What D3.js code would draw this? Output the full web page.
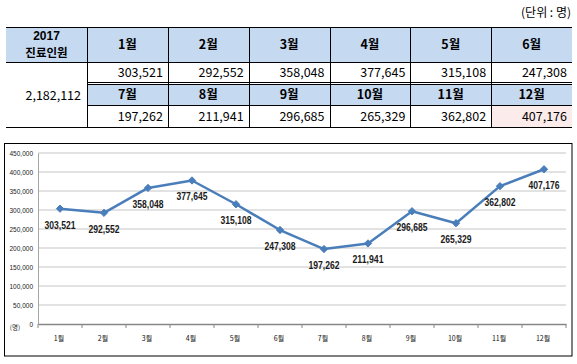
<!DOCTYPE html>
<html><head><meta charset="utf-8">
<script src="https://cdn.jsdelivr.net/npm/d3@7"></script>
<style>
body{margin:0;background:#fff;}
svg{display:block;}
</style></head>
<body>
<svg id="c" width="577" height="364"></svg>
<script>
const months = ["1월","2월","3월","4월","5월","6월","7월","8월","9월","10월","11월","12월"];
const values = [303521,292552,358048,377645,315108,247308,197262,211941,296685,265329,362802,407176];
const totalLabel = "2,182,112";
const yTicks = [0,50000,100000,150000,200000,250000,300000,350000,400000,450000];
const unitText = "(단위 : 명)";
const headerTitle = ["2017","진료인원"];
const yUnit = "(명)";

const svg = d3.select("#c");
const KR = "'Noto Sans CJK KR','Noto Sans',sans-serif";
const fmt = d3.format(",");

// ---------- TABLE ----------
svg.append("text").attr("x",571).attr("y",17).attr("text-anchor","end")
  .attr("font-family",KR).attr("font-size",12).attr("fill","#000").text(unitText);

const tL = 6, tR = 572, c1 = 87;
const colX = d3.scaleBand().domain(d3.range(6)).range([c1,tR]);
const rows = {h1:[27,62], v1:[62,82], h2:[84.5,105], v2:[105,127]};
const headBlue = "#C5D9F1";

svg.append("rect").attr("x",tL).attr("y",rows.h1[0]).attr("width",tR-tL).attr("height",rows.h1[1]-rows.h1[0]).attr("fill",headBlue);
svg.append("rect").attr("x",c1).attr("y",rows.h2[0]).attr("width",tR-c1).attr("height",rows.h2[1]-rows.h2[0]).attr("fill",headBlue);
svg.append("rect").attr("x",colX(5)).attr("y",rows.v2[0]).attr("width",colX.bandwidth()).attr("height",rows.v2[1]-rows.v2[0]).attr("fill","#FBECEB");

const line = (x1,y1,x2,y2)=>svg.append("line").attr("x1",x1).attr("y1",y1).attr("x2",x2).attr("y2",y2)
  .attr("stroke","#000").attr("stroke-width",1).attr("shape-rendering","crispEdges");
line(tL,27.5,tR,27.5);
line(tL,62.5,tR,62.5);
line(c1,82.5,tR,82.5);
line(c1,84.5,tR,84.5);
line(c1,105.5,tR,105.5);
line(tL,127.5,tR,127.5);
line(c1+0.5,27,c1+0.5,128);
for(let i=1;i<6;i++){ const x=Math.round(colX(i))+0.5; line(x,27,x,128); }

svg.append("text").attr("x",(tL+c1)/2).attr("y",40).attr("text-anchor","middle")
  .attr("font-family","'Liberation Sans',Arial,sans-serif").attr("font-weight","bold").attr("font-size",12).text(headerTitle[0]);
svg.append("text").attr("x",(tL+c1)/2).attr("y",57).attr("text-anchor","middle")
  .attr("font-family",KR).attr("font-weight","bold").attr("font-size",11.5).text(headerTitle[1]);
svg.append("text").attr("x",c1-6).attr("y",100).attr("text-anchor","end")
  .attr("font-family",KR).attr("font-size",12.5).text(totalLabel);

months.forEach((m,i)=>{
  const col = i%6, hr = i<6?rows.h1:rows.h2, vr = i<6?rows.v1:rows.v2;
  const cx = colX(col)+colX.bandwidth()/2;
  svg.append("text").attr("x",cx).attr("y",(hr[0]+hr[1])/2+4.5).attr("text-anchor","middle")
    .attr("font-family",KR).attr("font-weight","bold").attr("font-size",12.5).text(m);
  svg.append("text").attr("x",colX(col)+colX.bandwidth()-5).attr("y",(vr[0]+vr[1])/2+4.5).attr("text-anchor","end")
    .attr("font-family",KR).attr("font-size",12.5).text(fmt(values[i]));
});

// ---------- CHART ----------
svg.append("rect").attr("x",4.5).attr("y",143.5).attr("width",567.5).attr("height",212.5)
  .attr("fill","none").attr("stroke","#000").attr("stroke-width",1);

const x = d3.scaleBand().domain(months).range([38,566]);
const y = d3.scaleLinear().domain([0,450000]).range([324,153]);

svg.append("g").selectAll("line").data(yTicks.filter(d=>d>0)).join("line")
  .attr("x1",38).attr("x2",566).attr("y1",d=>y(d)).attr("y2",d=>y(d))
  .attr("stroke","#D9D9D9").attr("stroke-width",1.5);

const yAxis = svg.append("g").attr("transform","translate(38,0)")
  .call(d3.axisLeft(y).tickValues(yTicks).tickFormat(fmt).tickSize(0).tickPadding(5));
yAxis.select(".domain").attr("stroke","#A6A6A6").attr("stroke-width",1);
yAxis.selectAll("text").attr("font-family","'Liberation Sans Narrow','Liberation Sans',sans-serif")
  .attr("font-size",6.5).attr("fill","#222").attr("dy","0.35em");

const xAxis = svg.append("g").attr("transform","translate(0,324)")
  .call(d3.axisBottom(x).tickSize(0).tickPadding(12));
xAxis.select(".domain").attr("stroke","#868686").attr("stroke-width",1.5);
xAxis.selectAll("text").attr("font-family",KR).attr("font-size",7).attr("fill","#111").attr("dx","-1");
svg.append("g").selectAll("line").data(d3.range(13)).join("line")
  .attr("x1",i=>38+i*x.step()).attr("x2",i=>38+i*x.step())
  .attr("y1",324).attr("y2",328).attr("stroke","#868686").attr("stroke-width",1);

svg.append("text").attr("x",15).attr("y",330).attr("text-anchor","middle")
  .attr("font-family",KR).attr("font-size",6.5).attr("fill","#222").text(yUnit);

const pts = months.map((m,i)=>({m,v:values[i]}));
svg.append("path").datum(pts)
  .attr("d",d3.line().x(d=>x(d.m)+x.bandwidth()/2).y(d=>y(d.v)))
  .attr("fill","none").attr("stroke","#4A7EBB").attr("stroke-width",2.5).attr("stroke-linejoin","round");
svg.append("g").selectAll("path").data(pts).join("path")
  .attr("transform",d=>`translate(${x(d.m)+x.bandwidth()/2},${y(d.v)})`)
  .attr("d",d3.symbol(d3.symbolDiamond2,34)())
  .attr("fill","#4A7EBB").attr("stroke","#4A7EBB").attr("stroke-width",1);

svg.append("g").selectAll("text").data(pts).join("text")
  .attr("x",d=>x(d.m)+x.bandwidth()/2).attr("y",d=>y(d.v)+20)
  .attr("text-anchor","middle")
  .attr("font-family","'Liberation Sans Narrow','Liberation Sans',sans-serif")
  .attr("font-weight","bold").attr("font-size",11).attr("fill","#1a1a1a")
  .attr("textLength",31).attr("lengthAdjust","spacingAndGlyphs")
  .text(d=>fmt(d.v));
</script>
</body></html>
